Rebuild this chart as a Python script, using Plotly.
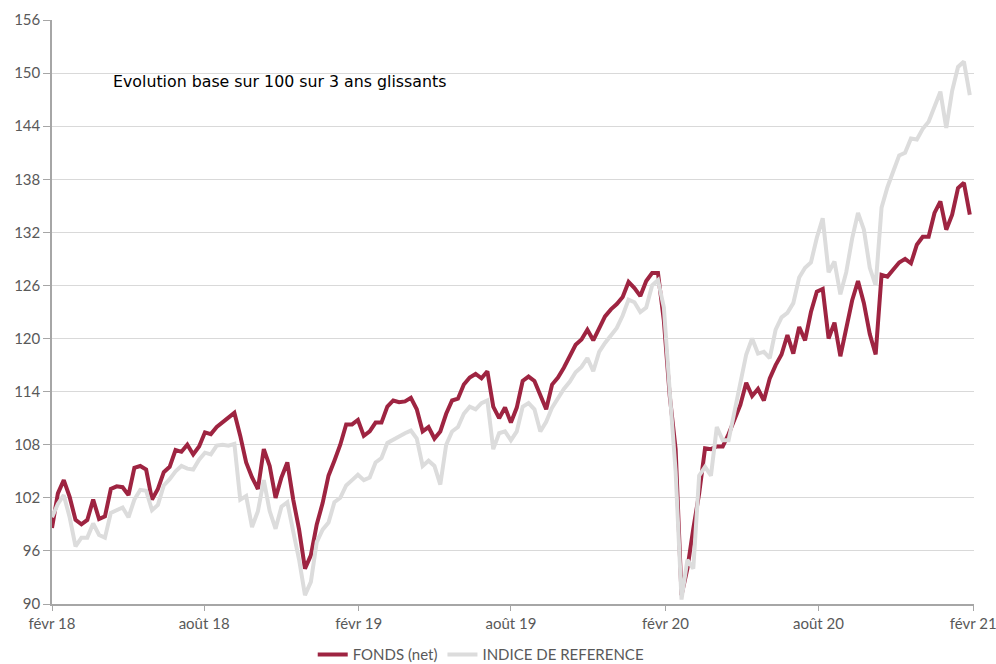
import pandas as pd
import plotly.graph_objects as go

dates = pd.date_range("2018-02-01", periods=157, freq="7D")

fonds = [
    98.6, 102.5, 104.0, 102.1, 99.5, 99.0, 99.5, 101.8, 99.6, 99.9,
    103.0, 103.3, 103.2, 102.3, 105.4, 105.6, 105.2, 101.8, 103.0, 104.9,
    105.5, 107.4, 107.2, 108.0, 106.9, 107.8, 109.4, 109.2, 110.0, 110.5,
    111.1, 111.6, 109.0, 106.0, 104.3, 103.0, 107.5, 105.6, 102.0, 104.3,
    106.0, 101.8, 98.4, 94.0, 95.5, 99.0, 101.4, 104.5, 106.2, 108.0,
    110.3, 110.3, 110.8, 109.0, 109.5, 110.5, 110.5, 112.3, 113.0, 112.8,
    112.9, 113.3, 112.0, 109.5, 110.0, 108.7, 109.5, 111.5, 113.0, 113.2,
    114.8, 115.6, 116.0, 115.5, 116.3, 112.3, 111.0, 112.2, 110.5, 112.2,
    115.2, 115.7, 115.2, 113.5, 112.0, 114.8, 115.6, 116.7, 117.9, 119.3,
    119.9, 121.0, 119.8, 121.2, 122.5, 123.3, 123.9, 124.7, 126.4, 125.7,
    124.8, 126.5, 127.4, 127.4, 122.0, 113.5, 107.5, 91.0, 94.0, 98.5,
    102.5, 107.6, 107.5, 107.8, 107.8, 109.2, 110.8, 112.5, 115.0, 113.5,
    114.3, 113.0, 115.5, 117.0, 118.2, 120.4, 118.3, 121.3, 119.8, 123.0,
    125.3, 125.6, 120.0, 121.8, 118.0, 121.2, 124.3, 126.5, 124.0, 120.5,
    118.2, 127.2, 127.0, 127.8, 128.6, 129.0, 128.5, 130.6, 131.5, 131.5,
    134.2, 135.5, 132.3, 134.0, 137.0, 137.6, 134.0,
]

indice = [
    99.8, 101.3, 102.3, 99.8, 96.5, 97.5, 97.5, 99.1, 97.8, 97.5,
    100.3, 100.6, 100.9, 99.8, 101.8, 102.9, 102.8, 100.6, 101.2, 103.4,
    104.1, 105.0, 105.6, 105.3, 105.2, 106.3, 107.1, 106.9, 107.9, 108.0,
    107.9, 108.1, 101.8, 102.2, 98.7, 100.5, 104.0, 100.5, 98.5, 101.0,
    101.5, 98.2, 95.0, 91.0, 92.5, 97.0, 98.4, 99.2, 101.5, 102.0,
    103.4, 104.0, 104.6, 104.0, 104.3, 106.0, 106.5, 108.2, 108.6, 109.0,
    109.3, 109.6, 108.7, 105.6, 106.2, 105.6, 103.5, 108.0, 109.5, 110.0,
    111.5, 112.3, 112.0, 112.7, 113.0, 107.5, 109.3, 109.5, 108.5, 109.5,
    112.3, 112.7, 112.0, 109.5, 110.6, 112.2, 113.3, 114.3, 115.1, 116.2,
    116.8, 117.8, 116.3, 118.5, 119.5, 120.4, 121.2, 122.6, 124.4, 124.1,
    123.0, 123.5, 126.0, 126.6, 123.5, 114.0, 105.0, 90.5, 95.0, 94.0,
    104.5, 105.5, 104.5, 110.0, 108.5, 108.5, 111.8, 115.3, 118.2, 120.0,
    118.3, 118.5, 117.8, 121.0, 122.4, 122.9, 124.0, 126.9, 128.0, 128.6,
    131.4, 133.6, 127.5, 128.7, 125.0, 127.5, 131.3, 134.2, 132.3, 128.0,
    126.0, 134.8, 137.1, 138.9, 140.7, 141.0, 142.6, 142.5, 143.7, 144.5,
    146.3, 147.9, 143.8, 148.0, 150.7, 151.3, 147.5,
]

x_tick_dates = ["2018-02-01", "2018-08-01", "2019-02-01", "2019-08-01",
                "2020-02-01", "2020-08-01", "2021-02-01"]
x_tick_labels = ["févr 18", "août 18", "févr 19", "août 19",
                 "févr 20", "août 20", "févr 21"]
y_ticks = [90, 96, 102, 108, 114, 120, 126, 132, 138, 144, 150, 156]

RED = "#9E2441"
GREY = "#DCDCDC"
narrow = "Lato, sans-serif"

fig = go.Figure()
fig.add_trace(go.Scatter(x=dates, y=fonds, name="FONDS (net)", mode="lines",
                         line=dict(color=RED, width=4)))
fig.add_trace(go.Scatter(x=dates, y=indice, name="INDICE DE REFERENCE", mode="lines",
                         line=dict(color=GREY, width=4)))

fig.update_layout(
    width=996, height=664,
    margin=dict(l=52, r=22, t=20, b=60, autoexpand=False),
    paper_bgcolor="white", plot_bgcolor="white",
    showlegend=True,
    legend=dict(orientation="h", x=0.465, xanchor="center", y=-0.087, yanchor="middle",
                font=dict(family=narrow, size=15, color="#595959"),
                itemwidth=30, tracegroupgap=0),
    annotations=[dict(text="Evolution base sur 100 sur 3 ans glissants",
                      xref="paper", yref="paper", x=0.0645, y=0.894,
                      xanchor="left", yanchor="middle", showarrow=False,
                      font=dict(family="DejaVu Sans, sans-serif", size=15.8, color="#000000"))],
)
fig.update_xaxes(
    range=["2018-02-01", "2021-02-02"],
    tickvals=x_tick_dates, ticktext=x_tick_labels,
    ticklabeloverflow="allow",
    showgrid=False, showline=True, linecolor="#A6A6A6", linewidth=1.5,
    ticks="outside", ticklen=5, tickcolor="#A6A6A6",
    tickfont=dict(family=narrow, size=15, color="#595959"),
    zeroline=False,
)
fig.update_yaxes(
    range=[90, 156], tickvals=y_ticks,
    showgrid=True, gridcolor="#D9D9D9", gridwidth=1,
    showline=True, linecolor="#A6A6A6", linewidth=1.5,
    ticks="outside", ticklen=7, tickcolor="#A6A6A6",
    tickfont=dict(family="Lato, sans-serif", size=15, color="#595959"),
    zeroline=False,
)

fig.write_html("out.html")
